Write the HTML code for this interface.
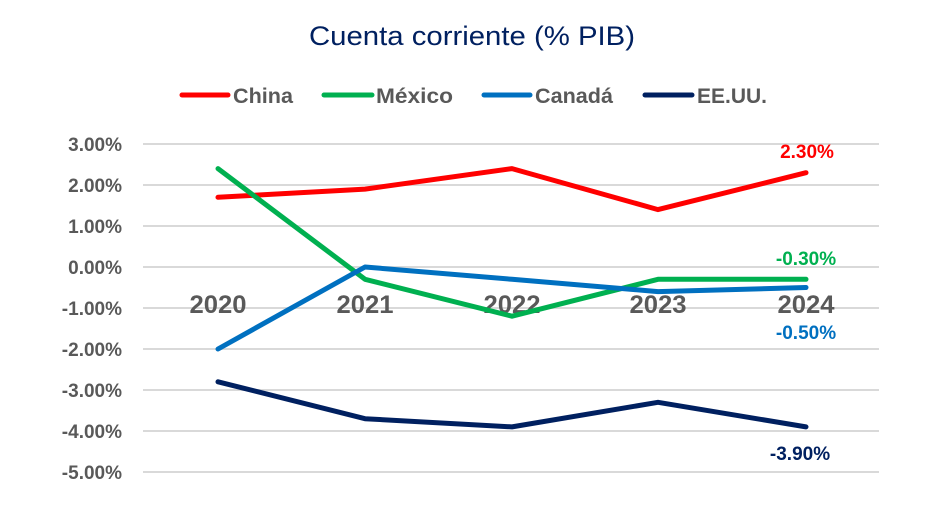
<!DOCTYPE html>
<html><head><meta charset="utf-8"><style>
html,body{margin:0;padding:0;background:#fff;}
svg{display:block;}
</style></head><body>
<svg width="932" height="507" viewBox="0 0 932 507" xmlns="http://www.w3.org/2000/svg" font-family="Liberation Sans, Arial, sans-serif">
<rect width="932" height="507" fill="#fff"/>
<text x="472" y="45" text-anchor="middle" font-size="27" fill="#002060" textLength="326" lengthAdjust="spacingAndGlyphs">Cuenta corriente (% PIB)</text>
<g stroke-width="5" stroke-linecap="round">
<line x1="182" y1="95" x2="228" y2="95" stroke="#FF0000"/>
<line x1="324" y1="95" x2="372" y2="95" stroke="#00B050"/>
<line x1="484" y1="95" x2="530" y2="95" stroke="#0070C0"/>
<line x1="645" y1="95" x2="692" y2="95" stroke="#002060"/>
</g>
<g font-size="21" font-weight="bold" fill="#595959">
<text x="233" y="103" textLength="60" lengthAdjust="spacingAndGlyphs">China</text>
<text x="376" y="103" textLength="77" lengthAdjust="spacingAndGlyphs">México</text>
<text x="535" y="103" textLength="78" lengthAdjust="spacingAndGlyphs">Canadá</text>
<text x="697" y="103" textLength="70" lengthAdjust="spacingAndGlyphs">EE.UU.</text>
</g>
<g stroke="#d9d9d9" stroke-width="2">
<line x1="143" x2="879" y1="144" y2="144"/>
<line x1="143" x2="879" y1="185" y2="185"/>
<line x1="143" x2="879" y1="226" y2="226"/>
<line x1="143" x2="879" y1="267" y2="267"/>
<line x1="143" x2="879" y1="308" y2="308"/>
<line x1="143" x2="879" y1="349" y2="349"/>
<line x1="143" x2="879" y1="390" y2="390"/>
<line x1="143" x2="879" y1="431" y2="431"/>
<line x1="143" x2="879" y1="472" y2="472"/>
</g>
<g font-size="19" font-weight="bold" fill="#595959" text-anchor="end">
<text x="122" y="151">3.00%</text>
<text x="122" y="192">2.00%</text>
<text x="122" y="233">1.00%</text>
<text x="122" y="274">0.00%</text>
<text x="122" y="315">-1.00%</text>
<text x="122" y="356">-2.00%</text>
<text x="122" y="397">-3.00%</text>
<text x="122" y="438">-4.00%</text>
<text x="122" y="479">-5.00%</text>
</g>
<g font-size="25" font-weight="bold" fill="#595959" text-anchor="middle">
<text x="218" y="313" textLength="57" lengthAdjust="spacingAndGlyphs">2020</text>
<text x="365" y="313" textLength="57" lengthAdjust="spacingAndGlyphs">2021</text>
<text x="512" y="313" textLength="57" lengthAdjust="spacingAndGlyphs">2022</text>
<text x="658" y="313" textLength="57" lengthAdjust="spacingAndGlyphs">2023</text>
<text x="806" y="313" textLength="57" lengthAdjust="spacingAndGlyphs">2024</text>
</g>
<g fill="none" stroke-width="5" stroke-linejoin="round" stroke-linecap="round">
<polyline stroke="#FF0000" points="218,197.3 365,189.1 512,168.6 658,209.6 806,172.7"/>
<polyline stroke="#00B050" points="218,168.6 365,279.3 512,316.2 658,279.3 806,279.3"/>
<polyline stroke="#0070C0" points="218,349 365,267 512,279.3 658,291.6 806,287.5"/>
<polyline stroke="#002060" points="218,381.8 365,418.7 512,426.9 658,402.3 806,426.9"/>
</g>
<g font-size="19" font-weight="bold" text-anchor="middle">
<text x="807" y="158" fill="#FF0000">2.30%</text>
<text x="806" y="265" fill="#00B050">-0.30%</text>
<text x="806" y="339" fill="#0070C0">-0.50%</text>
<text x="800" y="460" fill="#002060">-3.90%</text>
</g>
</svg>
</body></html>
